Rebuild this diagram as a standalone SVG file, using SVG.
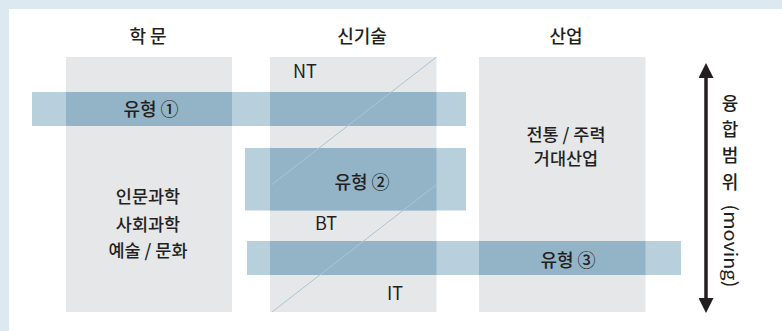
<svg xmlns="http://www.w3.org/2000/svg" width="782" height="331" viewBox="0 0 782 331">
  <defs>
    <style>
      .t { font-family: "Noto Sans CJK KR", "Noto Sans", sans-serif; font-weight: 500; fill: #231f20; text-anchor: middle; }
      .h { font-size: 18px; }
      .b { font-size: 17.5px; }
      .lat { font-family: "Noto Sans CJK KR", "Liberation Sans", sans-serif; font-weight: 400; font-size: 18px; fill: #231f20; }
      .rom { font-weight: 400; }
      .box { fill: #e6e7e9; }
      .band { fill: #b7d0dc; }
      .bandd { fill: #93b4c7; }
      .diag { stroke: #a9c5d3; stroke-width: 1; fill: none; }
    </style>
    <marker id="ah" viewBox="0 0 15 15" refX="0" refY="7.5" markerWidth="15" markerHeight="15" markerUnits="userSpaceOnUse" orient="auto-start-reverse">
      <path d="M0,0 L15,7.5 L0,15 Z" fill="#231f20"/>
    </marker>
  </defs>

  <rect x="0" y="0" width="782" height="331" fill="#ffffff"/>
  <rect x="0" y="0" width="782" height="9" fill="#dde9f0"/>
  <rect x="0" y="0" width="9" height="331" fill="#dde9f0"/>

  <g id="col-academic">
    <rect class="box" x="66" y="57" width="166" height="255"/>
    <text class="t h" x="148" y="43">학 문</text>
  </g>
  <g id="col-newtech">
    <rect class="box" x="270" y="57" width="166.5" height="255"/>
    <text class="t h" x="362" y="43">신기술</text>
  </g>
  <g id="col-industry">
    <rect class="box" x="479" y="57" width="166.5" height="255"/>
    <text class="t h" x="566" y="43">산업</text>
  </g>

  <g id="band-1">
    <rect class="band" x="32" y="92" width="434" height="34"/>
    <rect class="bandd" x="66" y="92" width="166" height="34"/>
    <rect class="bandd" x="270" y="92" width="166.5" height="34"/>
  </g>
  <g id="band-2">
    <rect class="band" x="245" y="148" width="221" height="62.5"/>
    <rect class="bandd" x="270" y="148" width="166.5" height="62.5"/>
  </g>
  <g id="band-3">
    <rect class="band" x="247" y="241" width="434" height="34"/>
    <rect class="bandd" x="270" y="241" width="166.5" height="34"/>
    <rect class="bandd" x="479" y="241" width="166.5" height="34"/>
  </g>

  <g id="connectors">
    <line class="diag" x1="436.5" y1="57" x2="272" y2="184.5"/>
    <line class="diag" x1="436.5" y1="184.5" x2="272" y2="312"/>
    <line x1="706" y1="78" x2="706" y2="298" stroke="#231f20" stroke-width="3.5" marker-start="url(#ah)" marker-end="url(#ah)"/>
  </g>

  <g id="labels-tech">
    <text class="lat" x="293" y="78">NT</text>
    <text class="lat" x="315" y="230">BT</text>
    <text class="lat" x="387" y="300">IT</text>
  </g>

  <g id="type-1"><text class="t h" x="151" y="116">유형 ①</text></g>
  <g id="type-2"><text class="t h" x="362" y="189">유형 ②</text></g>
  <g id="type-3"><text class="t h" x="568" y="267">유형 ③</text></g>

  <g id="academic-text">
    <text class="t b" x="148" y="203">인문과학</text>
    <text class="t b" x="148" y="231">사회과학</text>
    <text class="t b" x="148" y="257">예술 / 문화</text>
  </g>
  <g id="industry-text">
    <text class="t b" x="566" y="141">전통 / 주력</text>
    <text class="t b" x="566" y="165">거대산업</text>
  </g>

  <g id="axis-label">
    <text class="t h" x="730" y="110">융</text>
    <text class="t h" x="730" y="136">합</text>
    <text class="t h" x="730" y="162">범</text>
    <text class="t h" x="730" y="189">위</text>
    <text class="t h rom" x="0" y="0" transform="translate(724,246) rotate(90)" textLength="83" lengthAdjust="spacingAndGlyphs">(moving)</text>
  </g>
</svg>
